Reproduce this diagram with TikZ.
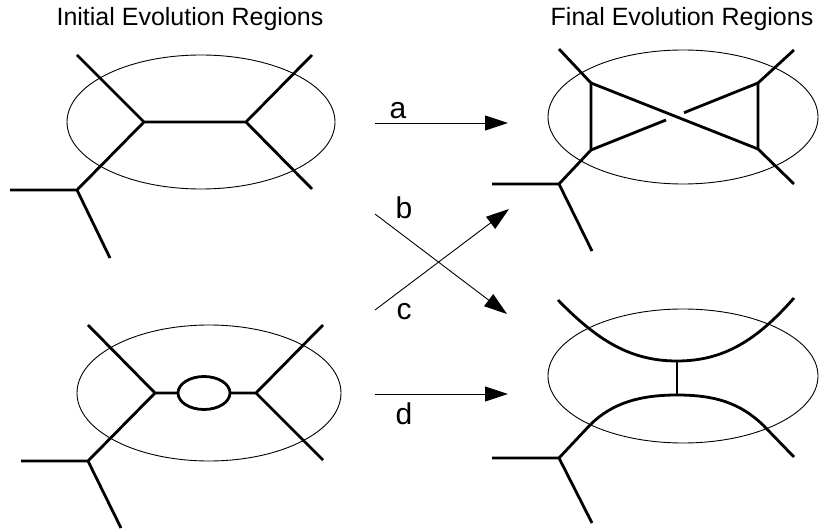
\documentclass[tikz,border=0pt]{standalone}
\usepackage{fontspec}
\setmainfont{Liberation Sans}
\usetikzlibrary{arrows.meta}
\begin{document}
\begin{tikzpicture}[x=1pt,y=-1pt,
  edge/.style={line width=2.8pt,line join=round},
  region/.style={line width=0.9pt},
  trans/.style={line width=0.9pt,-{Triangle[length=23pt,width=15pt]}},
  title/.style={anchor=base,font=\fontsize{25}{30}\selectfont},
  lbl/.style={inner sep=0pt,font=\fontsize{30}{36}\selectfont}]
\useasboundingbox (0,0) rectangle (820,529);
% titles
\node[title] (t1) at (190,26) {Initial Evolution Regions};
\node[title] (t2) at (682,26) {Final Evolution Regions};
% ---------- top-left panel ----------
\draw[region] (201,122) ellipse [x radius=134, y radius=67];
\coordinate (A1) at (77,55);
\coordinate (A2) at (144,122);
\coordinate (A3) at (246,122);
\coordinate (A4) at (312,55);
\coordinate (A5) at (312,189);
\coordinate (A6) at (77,190);
\coordinate (A7) at (10,190);
\coordinate (A8) at (110,258);
\draw[edge] (A1) -- (A2) -- (A3) -- (A4);
\draw[edge] (A3) -- (A5);
\draw[edge] (A2) -- (A6) -- (A7);
\draw[edge] (A6) -- (A8);
% ---------- bottom-left panel ----------
\draw[region] (209,393) ellipse [x radius=132, y radius=68];
\coordinate (B1) at (88,325);
\coordinate (B2) at (155,393);
\coordinate (B3) at (178,393);
\coordinate (B4) at (230,393);
\coordinate (B5) at (256,393);
\coordinate (B6) at (323,325);
\coordinate (B7) at (323,460);
\coordinate (B8) at (88,461);
\coordinate (B9) at (21,461);
\coordinate (B10) at (121,528);
\draw[edge] (204,393) ellipse [x radius=26, y radius=16.5];
\draw[edge] (B1) -- (B2) -- (B3);
\draw[edge] (B4) -- (B5) -- (B6);
\draw[edge] (B5) -- (B7);
\draw[edge] (B2) -- (B8) -- (B9);
\draw[edge] (B8) -- (B10);
% ---------- top-right panel ----------
\draw[region] (683,117) ellipse [x radius=135, y radius=67];
\coordinate (C1) at (559,49);
\coordinate (C2) at (591,83);
\coordinate (C3) at (591,150);
\coordinate (C4) at (559,184);
\coordinate (C5) at (492,184);
\coordinate (C6) at (592,251);
\coordinate (C7) at (794,50);
\coordinate (C8) at (758,83);
\coordinate (C9) at (758,149);
\coordinate (C10) at (794,184);
\coordinate (G1) at (666,120);
\coordinate (G2) at (684,112.7);
\draw[edge] (C1) -- (C2) -- (C3) -- (C4) -- (C5);
\draw[edge] (C4) -- (C6);
\draw[edge] (C7) -- (C8) -- (C9) -- (C10);
\draw[edge] (C2) -- (C9);
\draw[edge] (C3) -- (G1);
\draw[edge] (G2) -- (C8);
% ---------- bottom-right panel ----------
\draw[region] (683,376) ellipse [x radius=135, y radius=67];
\coordinate (D1) at (558,300);
\coordinate (D2) at (677,361);
\coordinate (D3) at (794,298);
\coordinate (D4) at (677,395);
\coordinate (D5) at (590,425);
\coordinate (D6) at (559,458);
\coordinate (D7) at (492,458);
\coordinate (D8) at (592,523);
\coordinate (D9) at (763,425);
\coordinate (D10) at (794,457);
\draw[edge] (D1) .. controls (597,340) and (630,361) .. (D2)
                 .. controls (724,361) and (757,340) .. (D3);
\draw[edge] (D2) -- (D4);
\draw[edge] (D7) -- (D6) -- (D5) .. controls (612,403) and (640,395) .. (D4)
                 .. controls (715,395) and (740,403) .. (D9) -- (D10);
\draw[edge] (D6) -- (D8);
% ---------- transitions ----------
\coordinate (a0) at (375,123);
\coordinate (a1) at (508,123);
\coordinate (b0) at (375,214);
\coordinate (b1) at (507,314);
\coordinate (c0) at (375,310);
\coordinate (c1) at (509,209);
\coordinate (d0) at (375,394);
\coordinate (d1) at (508,394);
\draw[trans] (a0) -- (a1);
\draw[trans] (b0) -- (b1);
\draw[trans] (c0) -- (c1);
\draw[trans] (d0) -- (d1);
\node[lbl] (la) at (398,110.5) {a};
\node[lbl] (lb) at (404,207.5) {b};
\node[lbl] (lc) at (404,311.5) {c};
\node[lbl] (ld) at (404,414) {d};
\end{tikzpicture}
\end{document}
